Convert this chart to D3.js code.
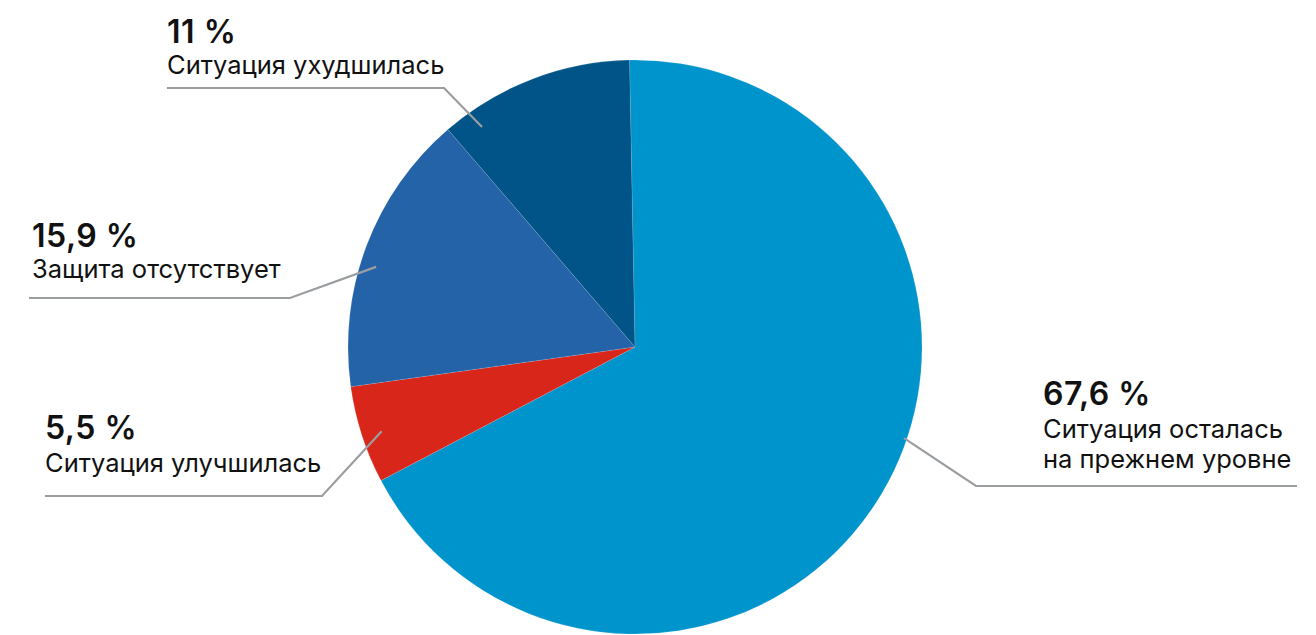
<!DOCTYPE html>
<html><head><meta charset="utf-8">
<script src="https://cdn.jsdelivr.net/npm/d3@7"></script>
<style>
html,body{margin:0;padding:0;background:#fff;}
svg{display:block;font-family:Inter,"Noto Sans",sans-serif;}
</style></head>
<body><svg id="c" width="1316" height="635"></svg>
<script>
// Data
const categories = ["Ситуация осталась на прежнем уровне", "Ситуация улучшилась", "Защита отсутствует", "Ситуация ухудшилась"];
const values = [67.6, 5.5, 15.9, 11];
const valueLabels = ["67,6 %", "5,5 %", "15,9 %", "11 %"];
const labelLines = [["Ситуация осталась", "на прежнем уровне"], ["Ситуация улучшилась"], ["Защита отсутствует"], ["Ситуация ухудшилась"]];
const colors = ["#0094CC", "#D9261A", "#2563A9", "#005487"];

// Layout (positions only)
const cx = 635, cy = 347, R = 287;
const layout = [
  {anchorDeg: 108.7, anchorR: 284, elbow: [976, 486], endX: 1297, tx: 1043, pctY: 405, lineY: 438},
  {anchorDeg: 251.6, anchorR: 267, elbow: [322, 496], endX: 45, tx: 45, pctY: 439, lineY: 472},
  {anchorDeg: 287.2, anchorR: 271, elbow: [290, 298], endX: 29, tx: 32, pctY: 247, lineY: 278},
  {anchorDeg: 325.2, anchorR: 268, elbow: [444, 88], endX: 167, tx: 167, pctY: 43, lineY: 74}
];

const svg = d3.select("#c");
const g = svg.append("g").attr("transform", `translate(${cx},${cy})`);

const start = -1.1 * Math.PI / 180;
const pie = d3.pie().sort(null).value(d => d).startAngle(start).endAngle(2 * Math.PI + start);
const arc = d3.arc().innerRadius(0).outerRadius(R);
const arcs = pie(values);

g.selectAll("path.slice").data(arcs).enter().append("path")
  .attr("class", "slice")
  .attr("d", arc)
  .attr("fill", (d, i) => colors[i])
  .attr("stroke", "rgba(255,255,255,0.2)")
  .attr("stroke-width", 0.6);

// Leader lines
const lines = svg.append("g");
layout.forEach((L, i) => {
  const p = d3.pointRadial(L.anchorDeg * Math.PI / 180, L.anchorR);
  const pts = [[cx + p[0], cy + p[1]], L.elbow, [L.endX, L.elbow[1]]];
  lines.append("path")
    .attr("d", d3.line()(pts))
    .attr("fill", "none")
    .attr("stroke", "#9A9EA1")
    .attr("stroke-width", 2.2);
});

// Text
const texts = svg.append("g").attr("fill", "#111");
layout.forEach((L, i) => {
  texts.append("text")
    .attr("x", L.tx).attr("y", L.pctY)
    .attr("font-size", 32).attr("font-weight", 600)
    .attr("letter-spacing", 0.5)
    .text(valueLabels[i]);
  labelLines[i].forEach((t, j) => {
    texts.append("text")
      .attr("x", L.tx).attr("y", L.lineY + j * 30)
      .attr("font-size", 25.5).attr("font-weight", 400)
      .text(t);
  });
});
</script>
</body></html>
